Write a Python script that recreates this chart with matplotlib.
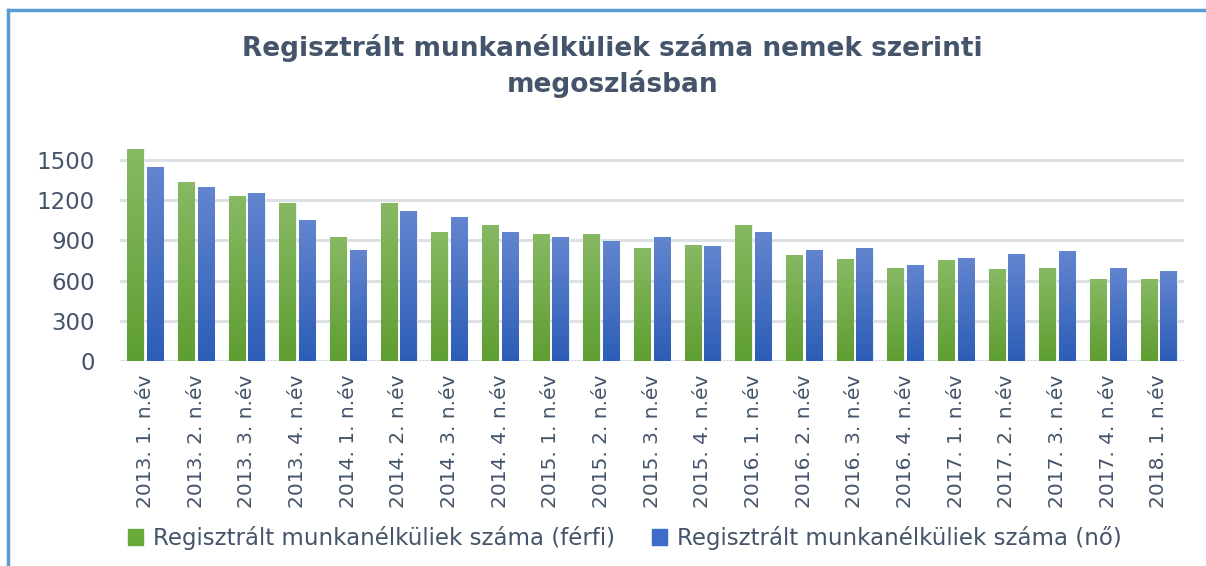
import numpy as np
import matplotlib
matplotlib.use('Agg')
import matplotlib.pyplot as plt
from matplotlib.lines import Line2D
from matplotlib.patches import Rectangle

# ============== 数据 ==============
categories = ['2013. 1. n.év', '2013. 2. n.év', '2013. 3. n.év', '2013. 4. n.év',
              '2014. 1. n.év', '2014. 2. n.év', '2014. 3. n.év', '2014. 4. n.év',
              '2015. 1. n.év', '2015. 2. n.év', '2015. 3. n.év', '2015. 4. n.év',
              '2016. 1. n.év', '2016. 2. n.év', '2016. 3. n.év', '2016. 4. n.év',
              '2017. 1. n.év', '2017. 2. n.év', '2017. 3. n.év', '2017. 4. n.év',
              '2018. 1. n.év']
ferfi = [1580, 1337, 1232, 1177, 922, 1177, 962, 1017, 950, 950, 847,
         867, 1017, 792, 762, 697, 755, 687, 697, 612, 612]
no = [1450, 1300, 1252, 1055, 830, 1122, 1075, 962, 922, 895, 922,
      857, 960, 830, 847, 717, 772, 802, 820, 697, 670]
yticks = [0, 300, 600, 900, 1200, 1500]
series_names = ['Regisztrált munkanélküliek száma (férfi)',
                'Regisztrált munkanélküliek száma (nő)']
title = 'Regisztrált munkanélküliek száma nemek szerinti\nmegoszlásban'

TXT = '#44546A'
GREEN_TOP, GREEN_BOT = '#88B964', '#5E9E31'
BLUE_TOP, BLUE_BOT = '#6385CF', '#2C5DB6'
FONT = 'DejaVu Sans'

W, H = 1206, 566
fig = plt.figure(figsize=(W / 100, H / 100), dpi=100, facecolor='white')
ax = fig.add_axes([120 / W, 1 - 361 / H, (1184 - 120) / W, (361 - 146.6) / H])


def grad_bars(ax, x, h, width, ctop, cbot):
    bars = ax.bar(x, h, width, color=cbot, edgecolor='#E8F0F8', linewidth=0.8, zorder=3)
    grad = np.linspace(0, 1, 256).reshape(-1, 1)
    cmap = matplotlib.colors.LinearSegmentedColormap.from_list('g', [cbot, ctop])
    for b in bars:
        x0, y0 = b.get_x(), b.get_y()
        im = ax.imshow(grad, cmap=cmap, aspect='auto', origin='lower',
                       extent=(x0, x0 + b.get_width(), y0, y0 + b.get_height()),
                       zorder=3.5)
        im.set_clip_path(b)
    return bars


x = np.arange(len(categories))
bw = 0.32
grad_bars(ax, x - bw / 2 - 0.035, ferfi, bw, GREEN_TOP, GREEN_BOT)
grad_bars(ax, x + bw / 2 + 0.035, no, bw, BLUE_TOP, BLUE_BOT)

ax.set_xlim(-0.5, len(categories) - 0.5)
ax.set_ylim(0, 1600)
ax.set_yticks(yticks)
ax.set_yticklabels([str(v) for v in yticks])
ax.set_xticks(x)
ax.set_xticklabels(categories, rotation=90)
ax.yaxis.grid(True, color='#DDE1E6', linewidth=2.2, zorder=0)
ax.set_axisbelow(True)
for s in ax.spines.values():
    s.set_visible(False)
ax.tick_params(axis='both', length=0, colors=TXT)
ax.tick_params(axis='y', pad=18, labelsize=16.5)
ax.tick_params(axis='x', pad=10, labelsize=14.5)
for lab in ax.get_xticklabels() + ax.get_yticklabels():
    lab.set_fontfamily(FONT)
    lab.set_color(TXT)

fig.text(0.508, 1 - 66 / H, title, ha='center', va='center', fontsize=19,
         fontweight='bold', color=TXT, family=FONT, linespacing=1.4)

handles = [Rectangle((0, 0), 1, 1, color='#6AAA3A'), Rectangle((0, 0), 1, 1, color='#3F6CC8')]
fig.legend(handles, series_names, loc='center', bbox_to_anchor=(0.518, 1 - 538 / H),
           ncol=2, frameon=False, handlelength=0.65, handleheight=0.65, handletextpad=0.45,
           columnspacing=1.6, prop={'family': FONT, 'size': 16.5},
           labelcolor=TXT)

# 外框 (上边和左边)
fig.add_artist(Line2D([8 / W, 1], [1 - 10 / H, 1 - 10 / H], color='#5B9BD5', linewidth=2.5))
fig.add_artist(Line2D([8 / W, 8 / W], [0, 1 - 10 / H], color='#5B9BD5', linewidth=2.5))

fig.savefig('out.png', dpi=100, facecolor='white')
